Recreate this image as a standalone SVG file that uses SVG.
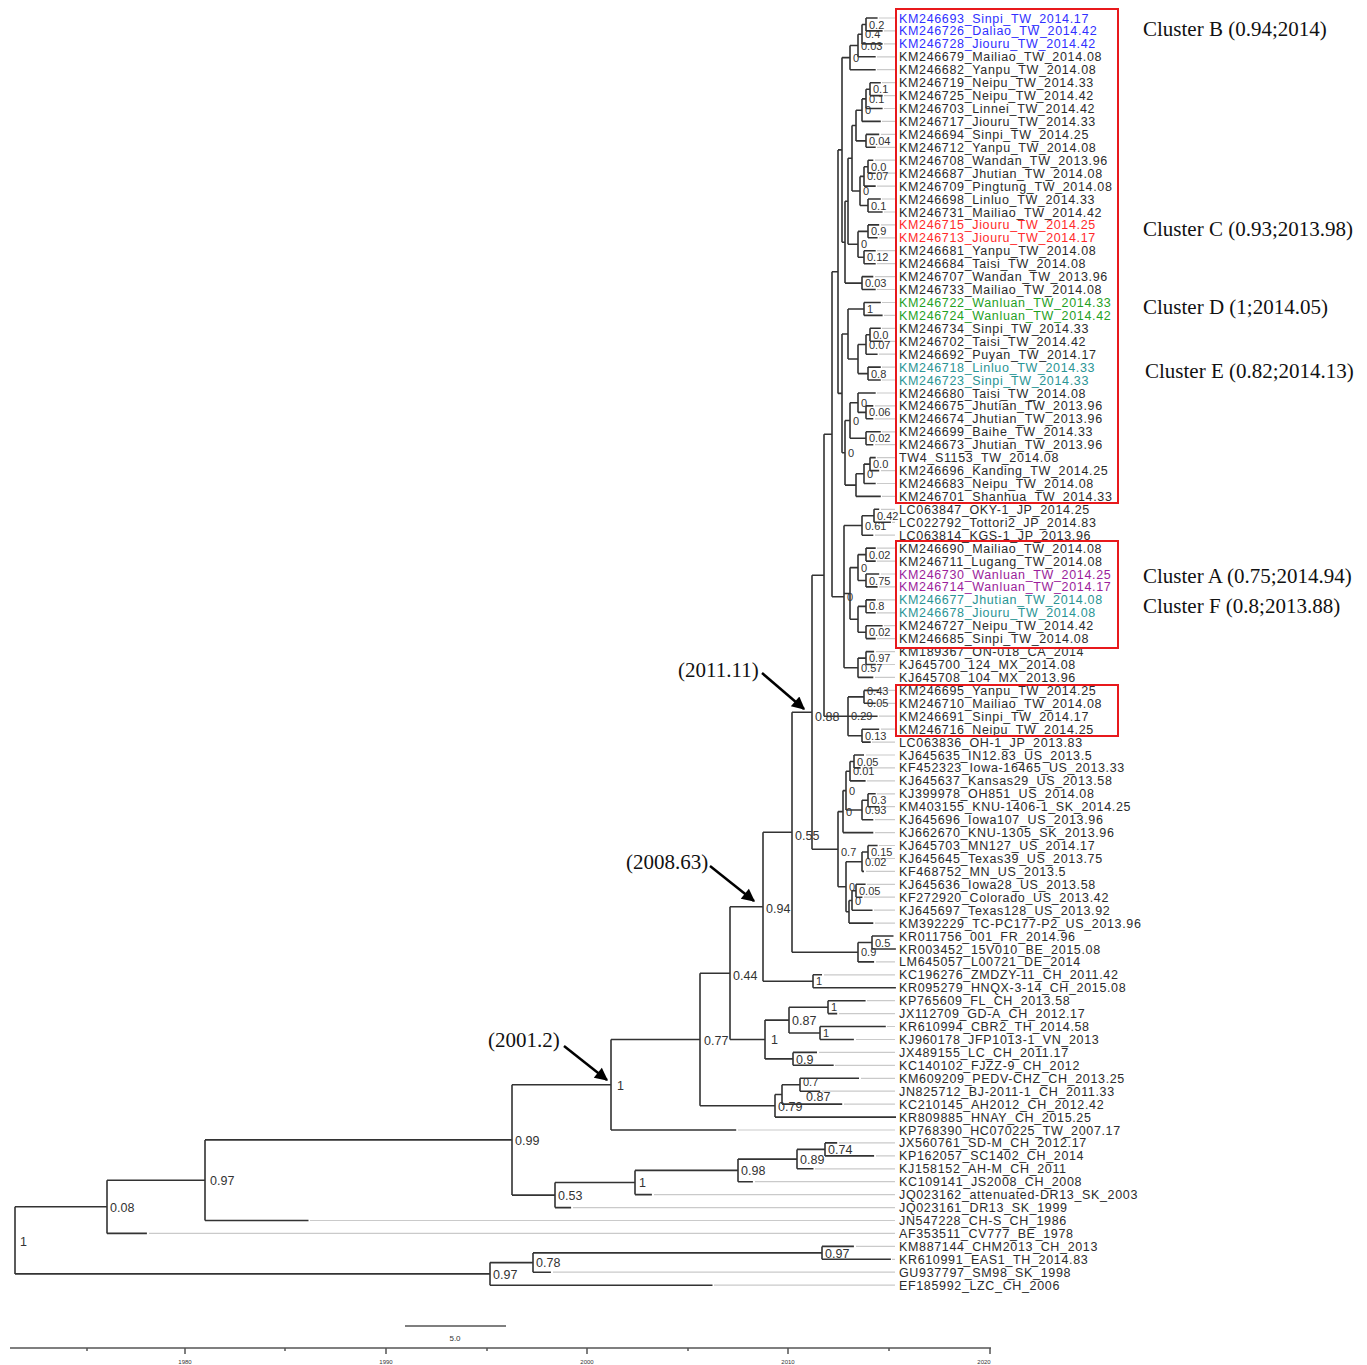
<svg xmlns="http://www.w3.org/2000/svg" width="1367" height="1365" viewBox="0 0 1367 1365">
<style>
.br{fill:none;stroke:#333;stroke-width:1.6}
.ext{fill:none;stroke:#cacaca;stroke-width:1.2}
.lf{font-family:"Liberation Sans",Arial,sans-serif;font-size:12.5px;letter-spacing:0.65px;fill:#2b2b2b}
.nl{font-family:"Liberation Sans",Arial,sans-serif;font-size:11px;fill:#333}
.nb{font-size:12.5px}
.cl{font-family:"Liberation Serif","Times New Roman",serif;font-size:21px;fill:#111}
.box{fill:none;stroke:#e8191c;stroke-width:2}
.arr{stroke:#000;stroke-width:2.5;marker-end:url(#ah)}
.ax{fill:none;stroke:#555;stroke-width:1.5}
.tk{font-family:"Liberation Sans",Arial,sans-serif;font-size:6px;fill:#333;text-anchor:middle}
.blue{fill:#3030ff}.red{fill:#ff2a2a}.green{fill:#1f9f1f}.teal{fill:#2a9494}.purple{fill:#9b1d9b}
</style>
<defs>
<marker id="ah" viewBox="0 0 10 10" refX="9" refY="5" markerWidth="15" markerHeight="13" markerUnits="userSpaceOnUse" orient="auto"><path d="M0 0L10 5L0 10z" fill="#000"/></marker>
</defs>
<rect width="1367" height="1365" fill="#fff"/>
<g id="connectors">
<path class="ext" d="M879 18H895M884 30.9H895M884 43.9H895M877 56.8H895M877 69.7H895M882 82.7H895M884 95.6H895M884 108.5H895M882 121.4H895M881 134.4H895M877 147.3H895M875 160.2H895M877 173.2H895M877 186.1H895M882 199H895M884 212H895M881 224.9H895M879 237.8H895M877 250.7H895M877 263.7H895M875 276.6H895M877 289.5H895M882 302.5H895M884 315.4H895M882 328.3H895M884 341.3H895M879 354.2H895M882 367.1H895M882 380H895M877 393H895M875 405.9H895M875 418.8H895M882 431.8H895M875 444.7H895M877 457.6H895M881 470.6H895M877 483.5H895M882 496.4H895M881 509.3H895M892 522.3H895M875 535.2H895M877 548.1H895M877 561.1H895M881 574H895M879 586.9H895M877 599.9H895M877 612.8H895M884 625.7H895M877 638.6H895M876 651.6H895M877 664.5H895M875 677.4H895M881 690.4H895M877 703.3H895M879 716.2H895M881 729.2H895M872 742.1H895M866 755H895M862 767.9H895M867 780.9H895M877 793.8H895M881 806.7H895M875 819.7H895M875 832.6H895M879 845.5H895M871 858.5H895M866 871.4H895M867 884.3H895M864 897.2H895M874 910.2H895M875 923.1H895M876 961.9H895M824 974.8H895M867 1000.7H895M839 1013.6H895M887 1026.5H895M856 1039.5H895M819 1052.4H895M835 1065.3H895M861 1078.3H895M822 1091.2H895M844 1104.1H895M738 1130H895M839 1142.9H895M876 1155.9H895M815 1168.8H895M755 1181.7H895M654 1194.6H895M573 1207.6H895M310 1220.5H895M149 1233.4H895M856 1246.4H895M892 1259.3H895M553 1272.2H895M714 1285.2H895"/>
<path class="br" d="M866 18V30.9M866 18H877.6M866 30.9H882.6
M862 24.5V43.9M862 24.5H866M862 43.9H882.6
M858 34.2V56.8M858 34.2H862M858 56.8H875.7
M850 45.5V69.7M850 45.5H858M850 69.7H875.7
M870 82.7V95.6M870 82.7H880.8M870 95.6H882.6
M866 89.2V108.5M866 89.2H870M866 108.5H882.6
M862 98.9V121.4M862 98.9H866M862 121.4H880.8
M866 134.4V147.3M866 134.4H879.2M866 147.3H875.7
M856 110.2V140.9M856 110.2H862M856 140.9H866
M868 160.2V173.2M868 160.2H873.3M868 173.2H875.7
M864 166.7V186.1M864 166.7H868M864 186.1H875.7
M868 199V212M868 199H880.8M868 212H882.6
M860 176.4V205.5M860 176.4H864M860 205.5H868
M868 224.9V237.8M868 224.9H879.2M868 237.8H877.6
M864 250.7V263.7M864 250.7H875.7M864 263.7H875.7
M858 231.4V257.2M858 231.4H868M858 257.2H864
M862 276.6V289.5M862 276.6H873.3M862 289.5H875.7
M864 302.5V315.4M864 302.5H880.8M864 315.4H882.6
M870 328.3V341.3M870 328.3H880.8M870 341.3H882.6
M866 334.8V354.2M866 334.8H870M866 354.2H877.6
M868 367.1V380M868 367.1H880.8M868 380H880.8
M858 344.5V373.6M858 344.5H866M858 373.6H868
M866 405.9V418.8M866 405.9H873.3M866 418.8H873.3
M858 393V412.4M858 393H875.7M858 412.4H866
M866 431.8V444.7M866 431.8H880.8M866 444.7H873.3
M850 402.7V438.2M850 402.7H858M850 438.2H866
M870 457.6V470.6M870 457.6H875.7M870 470.6H879.2
M864 464.1V483.5M864 464.1H870M864 483.5H875.7
M856 473.8V496.4M856 473.8H864M856 496.4H880.8
M852 125.5V191M852 125.5H856M852 191H860
M848 158.3V244.3M848 158.3H852M848 244.3H858
M845 201.3V283.1M845 201.3H848M845 283.1H862
M842 57.6V242.2M842 57.6H850M842 242.2H845
M848 309V359M848 309H864M848 359H858
M845 420.5V485.1M845 420.5H850M845 485.1H856
M842 334V452.8M842 334H848M842 452.8H845
M838 149.9V393.4M838 149.9H842M838 393.4H842
M874 509.3V522.3M874 509.3H879.2M874 522.3H890.9
M862 515.8V535.2M862 515.8H874M862 535.2H873.3
M866 548.1V561.1M866 548.1H875.7M866 561.1H875.7
M866 574V586.9M866 574H879.2M866 586.9H877.6
M858 554.6V580.5M858 554.6H866M858 580.5H866
M866 599.9V612.8M866 599.9H875.7M866 612.8H875.7
M866 625.7V638.6M866 625.7H882.6M866 638.6H875.7
M858 606.4V632.2M858 606.4H866M858 632.2H866
M850 567.6V619.3M850 567.6H858M850 619.3H858
M866 651.6V664.5M866 651.6H874.1M866 664.5H875.7
M858 658.1V677.4M858 658.1H866M858 677.4H873.3
M844 525.5V667.8M844 525.5H862M844 593.5H850M844 667.8H858
M832 271.7V596.7M832 271.7H838M832 596.7H844
M864 690.4V703.3M864 690.4H879.2M864 703.3H875.7
M862 729.2V742.1M862 729.2H879.2M862 742.1H870.7
M848 696.9V735.7M848 696.9H864M848 716.2H877.6M848 735.7H862
M824 434.2V716.3M824 434.2H832M824 716.3H848
M854 755V767.9M854 755H864M854 767.9H860.6
M850 761.5V780.9M850 761.5H854M850 780.9H865.6
M868 793.8V806.7M868 793.8H875.7M868 806.7H879.2
M862 800.3V819.7M862 800.3H868M862 819.7H873.3
M846 771.2V810M846 771.2H850M846 810H862
M843 790.6V832.6M843 790.6H846M843 832.6H873.3
M868 845.5V858.5M868 845.5H877.6M868 858.5H869.1
M862 852V871.4M862 852H868M862 871.4H864
M856 884.3V897.2M856 884.3H865.6M856 897.2H862.4
M852 890.8V910.2M852 890.8H856M852 910.2H872.5
M849 900.5V923.1M849 900.5H852M849 923.1H873.3
M846 861.7V911.8M846 861.7H862M846 911.8H849
M838 811.6V886.8M838 811.6H843M838 886.8H846
M812 575.3V849.2M812 575.3H824M812 849.2H838
M872 936V949M872 936H893.5M872 949H895.9
M858 942.5V961.9M858 942.5H872M858 961.9H874.1
M792 712.3V952.2M792 712.3H812M792 952.2H858
M813 974.8V987.8M813 974.8H822M813 987.8H895.9
M763 832.3V981.3M763 832.3H792M763 981.3H813
M828 1000.7V1013.6M828 1000.7H865.6M828 1013.6H837.2
M820 1026.5V1039.5M820 1026.5H885.8M820 1039.5H853.9
M789 1007.2V1033M789 1007.2H828M789 1033H820
M793 1052.4V1065.3M793 1052.4H817M793 1065.3H833.7
M765 1020.1V1058.9M765 1020.1H789M765 1058.9H793
M730 906.8V1039.5M730 906.8H763M730 1039.5H765
M800 1078.3V1091.2M800 1078.3H859M800 1091.2H820.2
M782 1084.8V1104.1M782 1084.8H800M782 1104.1H842.2
M775 1094.5V1117.1M775 1094.5H782M775 1117.1H896
M700 973.2V1105.8M700 973.2H730M700 1105.8H775
M611 1039.5V1130M611 1039.5H700M611 1130H736.2
M825 1142.9V1155.9M825 1142.9H837.2M825 1155.9H874.1
M797 1149.4V1168.8M797 1149.4H825M797 1168.8H813.5
M738 1159.1V1181.7M738 1159.1H797M738 1181.7H752.9
M635 1170.4V1194.6M635 1170.4H738M635 1194.6H651.9
M555 1182.5V1207.6M555 1182.5H635M555 1207.6H571.1
M512 1084.8V1195.1M512 1084.8H611M512 1195.1H555
M205 1139.9V1220.5M205 1139.9H512M205 1220.5H308.5
M107 1180.2V1233.4M107 1180.2H205M107 1233.4H146.9
M822 1246.4V1259.3M822 1246.4H853.9M822 1259.3H890.9
M533 1252.9V1272.2M533 1252.9H822M533 1272.2H550.9
M490 1262.6V1285.2M490 1262.6H533M490 1285.2H712.5
M15 1206.8V1273.9M15 1206.8H107M15 1273.9H490"/>
<path class="arr" d="M762 673L804 709"/>
<path class="arr" d="M710 866L754 901"/>
<path class="arr" d="M564 1046L607 1080"/>
</g>
<g id="node-labels" class="nl">
<text x="869" y="28.5">0.2</text><text x="865" y="38.2">0.4</text><text x="861" y="49.5">0.03</text><text x="853" y="61.6">0</text>
<text x="873" y="93.2">0.1</text><text x="869" y="102.9">0.1</text><text x="865" y="114.2">0</text><text x="869" y="144.9">0.04</text>
<text x="871" y="170.7">0.0</text><text x="867" y="180.4">0.07</text><text x="871" y="209.5">0.1</text><text x="863" y="195">0</text>
<text x="871" y="235.4">0.9</text><text x="867" y="261.2">0.12</text><text x="861" y="248.3">0</text><text x="865" y="287.1">0.03</text>
<text x="867" y="313">1</text><text x="873" y="338.8">0.0</text><text x="869" y="348.5">0.07</text><text x="871" y="377.6">0.8</text>
<text x="861" y="406.7">0</text><text x="869" y="416.4">0.06</text><text x="869" y="442.2">0.02</text><text x="853" y="424.5">0</text>
<text x="873" y="468.1">0.0</text><text x="867" y="477.8">0</text><text x="848" y="456.8">0</text>
<text x="877" y="519.8">0.42</text><text x="865" y="529.5">0.61</text><text x="847" y="600.7">0</text>
<text x="869" y="558.6">0.02</text><text x="869" y="584.5">0.75</text><text x="861" y="571.6">0</text>
<text x="869" y="610.4">0.8</text><text x="869" y="636.2">0.02</text><text x="869" y="662.1">0.97</text><text x="861" y="671.8">0.57</text>
<text x="867" y="695">0.43</text><text x="867" y="707">0.05</text><text x="851" y="720.3">0.29</text><text x="865" y="739.7">0.13</text>
<text x="857" y="765.5">0.05</text><text x="853" y="775.2">0.01</text><text x="849" y="794.6">0</text><text x="871" y="804.3">0.3</text>
<text x="865" y="814">0.93</text><text x="846" y="815.6">0</text><text x="871" y="856">0.15</text><text x="865" y="865.7">0.02</text>
<text x="841" y="856">0.7</text><text x="849" y="890.8">0</text><text x="859" y="894.8">0.05</text><text x="855" y="904.5">0</text>
<text x="875" y="946.5">0.5</text><text x="861" y="956.2">0.9</text><text x="816" y="985.3">1</text>
<text x="831" y="1011.2">1</text><text x="823" y="1037">1</text>
<text x="803" y="1086">0.7</text>
<g class="nb">
<text x="792" y="1024.5">0.87</text><text x="796" y="1063.5">0.9</text>
<text x="771" y="1044">1</text><text x="806" y="1101">0.87</text><text x="778" y="1111">0.79</text>
<text x="815" y="720.5">0.88</text><text x="795" y="839.5">0.55</text><text x="766" y="912.5">0.94</text><text x="733" y="979.5">0.44</text>
<text x="704" y="1044.5">0.77</text><text x="617" y="1089.5">1</text><text x="828" y="1154">0.74</text><text x="800" y="1164">0.89</text>
<text x="741" y="1175">0.98</text><text x="639" y="1187">1</text><text x="558" y="1200">0.53</text><text x="515" y="1144.5">0.99</text>
<text x="210" y="1185">0.97</text><text x="110" y="1211.5">0.08</text><text x="825" y="1257.5">0.97</text><text x="536" y="1267">0.78</text>
<text x="493" y="1278.5">0.97</text><text x="20" y="1245.5">1</text>
</g>
</g>
<g id="leaves" class="lf">
<g id="leaf01"><text x="899" y="22.5" class="blue">KM246693_Sinpi_TW_2014.17</text></g>
<g id="leaf02"><text x="899" y="35.4" class="blue">KM246726_Daliao_TW_2014.42</text></g>
<g id="leaf03"><text x="899" y="48.4" class="blue">KM246728_Jiouru_TW_2014.42</text></g>
<g id="leaf04"><text x="899" y="61.3">KM246679_Mailiao_TW_2014.08</text></g>
<g id="leaf05"><text x="899" y="74.2">KM246682_Yanpu_TW_2014.08</text></g>
<g id="leaf06"><text x="899" y="87.2">KM246719_Neipu_TW_2014.33</text></g>
<g id="leaf07"><text x="899" y="100.1">KM246725_Neipu_TW_2014.42</text></g>
<g id="leaf08"><text x="899" y="113">KM246703_Linnei_TW_2014.42</text></g>
<g id="leaf09"><text x="899" y="125.9">KM246717_Jiouru_TW_2014.33</text></g>
<g id="leaf10"><text x="899" y="138.9">KM246694_Sinpi_TW_2014.25</text></g>
<g id="leaf11"><text x="899" y="151.8">KM246712_Yanpu_TW_2014.08</text></g>
<g id="leaf12"><text x="899" y="164.7">KM246708_Wandan_TW_2013.96</text></g>
<g id="leaf13"><text x="899" y="177.7">KM246687_Jhutian_TW_2014.08</text></g>
<g id="leaf14"><text x="899" y="190.6">KM246709_Pingtung_TW_2014.08</text></g>
<g id="leaf15"><text x="899" y="203.5">KM246698_Linluo_TW_2014.33</text></g>
<g id="leaf16"><text x="899" y="216.5">KM246731_Mailiao_TW_2014.42</text></g>
<g id="leaf17"><text x="899" y="229.4" class="red">KM246715_Jiouru_TW_2014.25</text></g>
<g id="leaf18"><text x="899" y="242.3" class="red">KM246713_Jiouru_TW_2014.17</text></g>
<g id="leaf19"><text x="899" y="255.2">KM246681_Yanpu_TW_2014.08</text></g>
<g id="leaf20"><text x="899" y="268.2">KM246684_Taisi_TW_2014.08</text></g>
<g id="leaf21"><text x="899" y="281.1">KM246707_Wandan_TW_2013.96</text></g>
<g id="leaf22"><text x="899" y="294">KM246733_Mailiao_TW_2014.08</text></g>
<g id="leaf23"><text x="899" y="307" class="green">KM246722_Wanluan_TW_2014.33</text></g>
<g id="leaf24"><text x="899" y="319.9" class="green">KM246724_Wanluan_TW_2014.42</text></g>
<g id="leaf25"><text x="899" y="332.8">KM246734_Sinpi_TW_2014.33</text></g>
<g id="leaf26"><text x="899" y="345.8">KM246702_Taisi_TW_2014.42</text></g>
<g id="leaf27"><text x="899" y="358.7">KM246692_Puyan_TW_2014.17</text></g>
<g id="leaf28"><text x="899" y="371.6" class="teal">KM246718_Linluo_TW_2014.33</text></g>
<g id="leaf29"><text x="899" y="384.5" class="teal">KM246723_Sinpi_TW_2014.33</text></g>
<g id="leaf30"><text x="899" y="397.5">KM246680_Taisi_TW_2014.08</text></g>
<g id="leaf31"><text x="899" y="410.4">KM246675_Jhutian_TW_2013.96</text></g>
<g id="leaf32"><text x="899" y="423.3">KM246674_Jhutian_TW_2013.96</text></g>
<g id="leaf33"><text x="899" y="436.3">KM246699_Baihe_TW_2014.33</text></g>
<g id="leaf34"><text x="899" y="449.2">KM246673_Jhutian_TW_2013.96</text></g>
<g id="leaf35"><text x="899" y="462.1">TW4_S1153_TW_2014.08</text></g>
<g id="leaf36"><text x="899" y="475.1">KM246696_Kanding_TW_2014.25</text></g>
<g id="leaf37"><text x="899" y="488">KM246683_Neipu_TW_2014.08</text></g>
<g id="leaf38"><text x="899" y="500.9">KM246701_Shanhua_TW_2014.33</text></g>
<g id="leaf39"><text x="899" y="513.8">LC063847_OKY-1_JP_2014.25</text></g>
<g id="leaf40"><text x="899" y="526.8">LC022792_Tottori2_JP_2014.83</text></g>
<g id="leaf41"><text x="899" y="539.7">LC063814_KGS-1_JP_2013.96</text></g>
<g id="leaf42"><text x="899" y="552.6">KM246690_Mailiao_TW_2014.08</text></g>
<g id="leaf43"><text x="899" y="565.6">KM246711_Lugang_TW_2014.08</text></g>
<g id="leaf44"><text x="899" y="578.5" class="purple">KM246730_Wanluan_TW_2014.25</text></g>
<g id="leaf45"><text x="899" y="591.4" class="purple">KM246714_Wanluan_TW_2014.17</text></g>
<g id="leaf46"><text x="899" y="604.4" class="teal">KM246677_Jhutian_TW_2014.08</text></g>
<g id="leaf47"><text x="899" y="617.3" class="teal">KM246678_Jiouru_TW_2014.08</text></g>
<g id="leaf48"><text x="899" y="630.2">KM246727_Neipu_TW_2014.42</text></g>
<g id="leaf49"><text x="899" y="643.1">KM246685_Sinpi_TW_2014.08</text></g>
<g id="leaf50"><text x="899" y="656.1">KM189367_ON-018_CA_2014</text></g>
<g id="leaf51"><text x="899" y="669">KJ645700_124_MX_2014.08</text></g>
<g id="leaf52"><text x="899" y="681.9">KJ645708_104_MX_2013.96</text></g>
<g id="leaf53"><text x="899" y="694.9">KM246695_Yanpu_TW_2014.25</text></g>
<g id="leaf54"><text x="899" y="707.8">KM246710_Mailiao_TW_2014.08</text></g>
<g id="leaf55"><text x="899" y="720.7">KM246691_Sinpi_TW_2014.17</text></g>
<g id="leaf56"><text x="899" y="733.7">KM246716_Neipu_TW_2014.25</text></g>
<g id="leaf57"><text x="899" y="746.6">LC063836_OH-1_JP_2013.83</text></g>
<g id="leaf58"><text x="899" y="759.5">KJ645635_IN12.83_US_2013.5</text></g>
<g id="leaf59"><text x="899" y="772.4">KF452323_Iowa-16465_US_2013.33</text></g>
<g id="leaf60"><text x="899" y="785.4">KJ645637_Kansas29_US_2013.58</text></g>
<g id="leaf61"><text x="899" y="798.3">KJ399978_OH851_US_2014.08</text></g>
<g id="leaf62"><text x="899" y="811.2">KM403155_KNU-1406-1_SK_2014.25</text></g>
<g id="leaf63"><text x="899" y="824.2">KJ645696_Iowa107_US_2013.96</text></g>
<g id="leaf64"><text x="899" y="837.1">KJ662670_KNU-1305_SK_2013.96</text></g>
<g id="leaf65"><text x="899" y="850">KJ645703_MN127_US_2014.17</text></g>
<g id="leaf66"><text x="899" y="863">KJ645645_Texas39_US_2013.75</text></g>
<g id="leaf67"><text x="899" y="875.9">KF468752_MN_US_2013.5</text></g>
<g id="leaf68"><text x="899" y="888.8">KJ645636_Iowa28_US_2013.58</text></g>
<g id="leaf69"><text x="899" y="901.7">KF272920_Colorado_US_2013.42</text></g>
<g id="leaf70"><text x="899" y="914.7">KJ645697_Texas128_US_2013.92</text></g>
<g id="leaf71"><text x="899" y="927.6">KM392229_TC-PC177-P2_US_2013.96</text></g>
<g id="leaf72"><text x="899" y="940.5">KR011756_001_FR_2014.96</text></g>
<g id="leaf73"><text x="899" y="953.5">KR003452_15V010_BE_2015.08</text></g>
<g id="leaf74"><text x="899" y="966.4">LM645057_L00721_DE_2014</text></g>
<g id="leaf75"><text x="899" y="979.3">KC196276_ZMDZY-11_CH_2011.42</text></g>
<g id="leaf76"><text x="899" y="992.3">KR095279_HNQX-3-14_CH_2015.08</text></g>
<g id="leaf77"><text x="899" y="1005.2">KP765609_FL_CH_2013.58</text></g>
<g id="leaf78"><text x="899" y="1018.1">JX112709_GD-A_CH_2012.17</text></g>
<g id="leaf79"><text x="899" y="1031">KR610994_CBR2_TH_2014.58</text></g>
<g id="leaf80"><text x="899" y="1044">KJ960178_JFP1013-1_VN_2013</text></g>
<g id="leaf81"><text x="899" y="1056.9">JX489155_LC_CH_2011.17</text></g>
<g id="leaf82"><text x="899" y="1069.8">KC140102_FJZZ-9_CH_2012</text></g>
<g id="leaf83"><text x="899" y="1082.8">KM609209_PEDV-CHZ_CH_2013.25</text></g>
<g id="leaf84"><text x="899" y="1095.7">JN825712_BJ-2011-1_CH_2011.33</text></g>
<g id="leaf85"><text x="899" y="1108.6">KC210145_AH2012_CH_2012.42</text></g>
<g id="leaf86"><text x="899" y="1121.6">KR809885_HNAY_CH_2015.25</text></g>
<g id="leaf87"><text x="899" y="1134.5">KP768390_HC070225_TW_2007.17</text></g>
<g id="leaf88"><text x="899" y="1147.4">JX560761_SD-M_CH_2012.17</text></g>
<g id="leaf89"><text x="899" y="1160.4">KP162057_SC1402_CH_2014</text></g>
<g id="leaf90"><text x="899" y="1173.3">KJ158152_AH-M_CH_2011</text></g>
<g id="leaf91"><text x="899" y="1186.2">KC109141_JS2008_CH_2008</text></g>
<g id="leaf92"><text x="899" y="1199.1">JQ023162_attenuated-DR13_SK_2003</text></g>
<g id="leaf93"><text x="899" y="1212.1">JQ023161_DR13_SK_1999</text></g>
<g id="leaf94"><text x="899" y="1225">JN547228_CH-S_CH_1986</text></g>
<g id="leaf95"><text x="899" y="1237.9">AF353511_CV777_BE_1978</text></g>
<g id="leaf96"><text x="899" y="1250.9">KM887144_CHM2013_CH_2013</text></g>
<g id="leaf97"><text x="899" y="1263.8">KR610991_EAS1_TH_2014.83</text></g>
<g id="leaf98"><text x="899" y="1276.7">GU937797_SM98_SK_1998</text></g>
<g id="leaf99"><text x="899" y="1289.7">EF185992_LZC_CH_2006</text></g>
</g>
<g id="cluster-boxes">
<rect class="box" x="896" y="9" width="222" height="494"/>
<rect class="box" x="896" y="541" width="222" height="107"/>
<rect class="box" x="896" y="685" width="222" height="51"/>
</g>
<g id="cluster-labels" class="cl">
<g id="clusterB"><text x="1143" y="36">Cluster B (0.94;2014)</text></g>
<g id="clusterC"><text x="1143" y="236">Cluster C (0.93;2013.98)</text></g>
<g id="clusterD"><text x="1143" y="314">Cluster D (1;2014.05)</text></g>
<g id="clusterE"><text x="1145" y="378">Cluster E (0.82;2014.13)</text></g>
<g id="clusterA"><text x="1143" y="583">Cluster A (0.75;2014.94)</text></g>
<g id="clusterF"><text x="1143" y="613">Cluster F (0.8;2013.88)</text></g>
</g>
<g id="date-annotations" class="cl">
<g id="d2011"><text x="678" y="677">(2011.11)</text></g>
<g id="d2008"><text x="626" y="869">(2008.63)</text></g>
<g id="d2001"><text x="488" y="1047">(2001.2)</text></g>
</g>
<g id="scale">
<path class="ax" d="M405 1326H506"/>
<text x="455" y="1341" class="tk" style="font-size:8px">5.0</text>
<path class="ax" d="M10 1348H991M185 1348v6M386 1348v6M587 1348v6M788 1348v6M990 1348v6M87 1348v3M285 1348v3M487 1348v3M688 1348v3M889 1348v3"/>
<text x="185" y="1363.5" class="tk">1980</text>
<text x="386" y="1363.5" class="tk">1990</text>
<text x="587" y="1363.5" class="tk">2000</text>
<text x="788" y="1363.5" class="tk">2010</text>
<text x="984" y="1363.5" class="tk">2020</text>
</g>
</svg>
